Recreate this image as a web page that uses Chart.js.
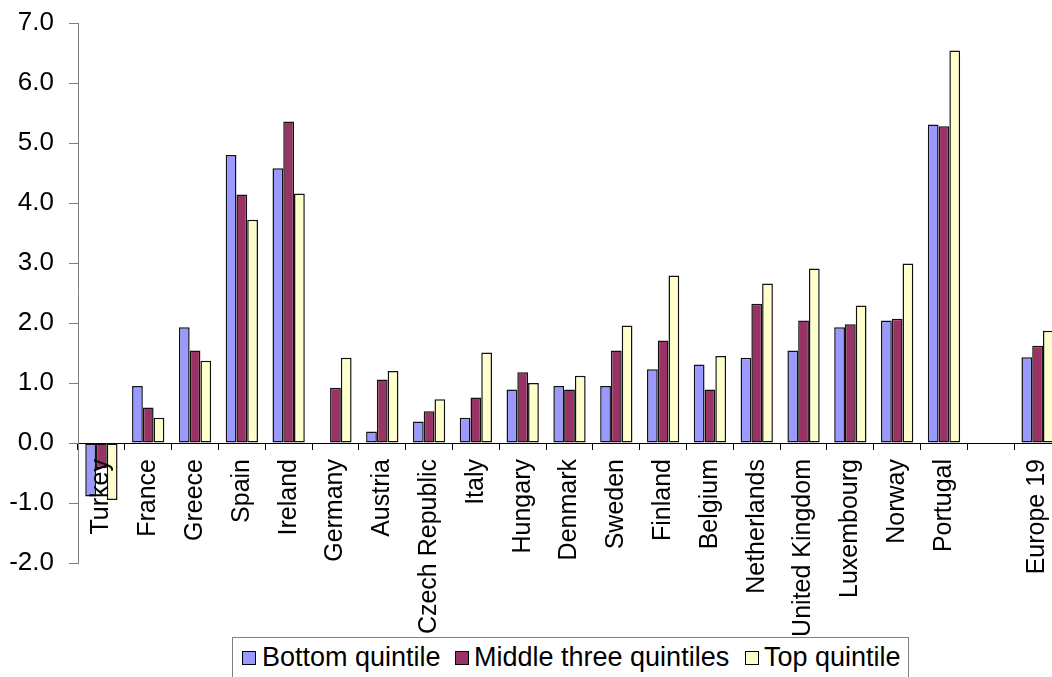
<!DOCTYPE html>
<html>
<head>
<meta charset="utf-8">
<script src="https://cdn.jsdelivr.net/npm/chart.js@4/dist/chart.umd.min.js"></script>
<style>
  html, body { margin: 0; padding: 0; background: #fff; overflow: hidden; width: 1052px; height: 677px; }
  #wrap { position: absolute; left: 0; top: 0; width: 1061px; height: 677px; }
  #legend {
    position: absolute; left: 232px; top: 637px; width: 677px; height: 60px;
    border: 1px solid #808080; box-sizing: border-box; background: #fff;
    font-family: "Liberation Sans", Arial, sans-serif; font-size: 27px; color: #000;
    white-space: nowrap;
  }
  #legend .sw { position: absolute; top: 13px; width: 14px; height: 14px; border: 1.5px solid #000; box-sizing: border-box; }
  #legend .tx { position: absolute; top: 6px; line-height: 27px; }
</style>
</head>
<body>
<div id="wrap"><canvas id="chart"></canvas></div>
<div id="legend"></div>
<script>
// Country groups along the horizontal axis (one empty slot before the Europe-wide figure)
const categories = [
  'Turkey', 'France', 'Greece', 'Spain', 'Ireland', 'Germany', 'Austria',
  'Czech Republic', 'Italy', 'Hungary', 'Denmark', 'Sweden', 'Finland',
  'Belgium', 'Netherlands', 'United Kingdom', 'Luxembourg', 'Norway',
  'Portugal', '', 'Europe 19'
];

const seriesNames = ['Bottom quintile', 'Middle three quintiles', 'Top quintile'];
const seriesColors = ['#9999FF', '#993366', '#FFFFCC'];

const bottomQuintile = [
  -0.89, 0.95, 1.93, 4.80, 4.58, null, 0.19,
  0.36, 0.42, 0.89, 0.95, 0.95, 1.23,
  1.31, 1.42, 1.54, 1.93, 2.04,
  5.31, null, 1.43
];
const middleQuintiles = [
  -0.42, 0.59, 1.54, 4.14, 5.36, 0.92, 1.06,
  0.53, 0.76, 1.18, 0.89, 1.54, 1.71,
  0.89, 2.32, 2.04, 1.98, 2.07,
  5.28, null, 1.62
];
const topQuintile = [
  -0.95, 0.42, 1.37, 3.72, 4.16, 1.42, 1.20,
  0.73, 1.51, 1.00, 1.12, 1.96, 2.79,
  1.45, 2.66, 2.91, 2.29, 2.99,
  6.54, null, 1.87
];

const yMin = -2.0;
const yMax = 7.0;
const yStep = 1.0;

const FONT = '"Liberation Sans", Arial, sans-serif';
const seriesValues = [bottomQuintile, middleQuintiles, topQuintile];

const datasets = seriesNames.map((name, i) => ({
  label: name,
  data: seriesValues[i],
  backgroundColor: seriesColors[i],
  borderColor: '#111',
  borderWidth: 1.5,
  borderSkipped: false,
  categoryPercentage: 0.69,
  barPercentage: 1.0
}));

new Chart(document.getElementById('chart'), {
  type: 'bar',
  data: { labels: categories, datasets },
  options: {
    responsive: true,
    maintainAspectRatio: false,
    animation: false,
    layout: { padding: { top: 23, bottom: 114, left: 0, right: 0 } },
    plugins: { legend: { display: false }, tooltip: { enabled: false } },
    scales: {
      x: {
        position: { y: 0 },
        offset: true,
        // the category axis sits on the zero line, so it takes no room of its own
        afterFit: (scale) => { scale.height = 0; scale.paddingLeft = 0; scale.paddingRight = 0; },
        grid: {
          display: true, offset: true, drawOnChartArea: false,
          drawTicks: true, tickLength: 6, tickColor: '#000', lineWidth: 1
        },
        border: { display: true, color: '#000', width: 1 },
        ticks: {
          autoSkip: false, minRotation: 90, maxRotation: 90,
          padding: 10, color: '#000', z: 1,
          font: { family: FONT, size: 25 }
        }
      },
      y: {
        min: yMin, max: yMax,
        afterFit: (scale) => { scale.width = 78; scale.paddingTop = 0; scale.paddingBottom = 0; },
        grid: {
          display: true, drawOnChartArea: false, drawTicks: true,
          tickLength: 9, tickColor: '#808080'
        },
        border: { display: true, color: '#808080', width: 1 },
        ticks: {
          stepSize: yStep, padding: 15, color: '#000',
          font: { family: FONT, size: 26 },
          callback: (v) => Number(v).toFixed(1)
        }
      }
    }
  }
});

// Legend row below the plot
const legend = document.getElementById('legend');
const swatchX = [9, 222, 512];
const textX = [29, 241, 531];
seriesNames.forEach((name, i) => {
  const sw = document.createElement('div');
  sw.className = 'sw';
  sw.style.left = swatchX[i] + 'px';
  sw.style.background = seriesColors[i];
  legend.appendChild(sw);
  const tx = document.createElement('div');
  tx.className = 'tx';
  tx.style.left = textX[i] + 'px';
  tx.textContent = name;
  legend.appendChild(tx);
});
</script>
</body>
</html>
